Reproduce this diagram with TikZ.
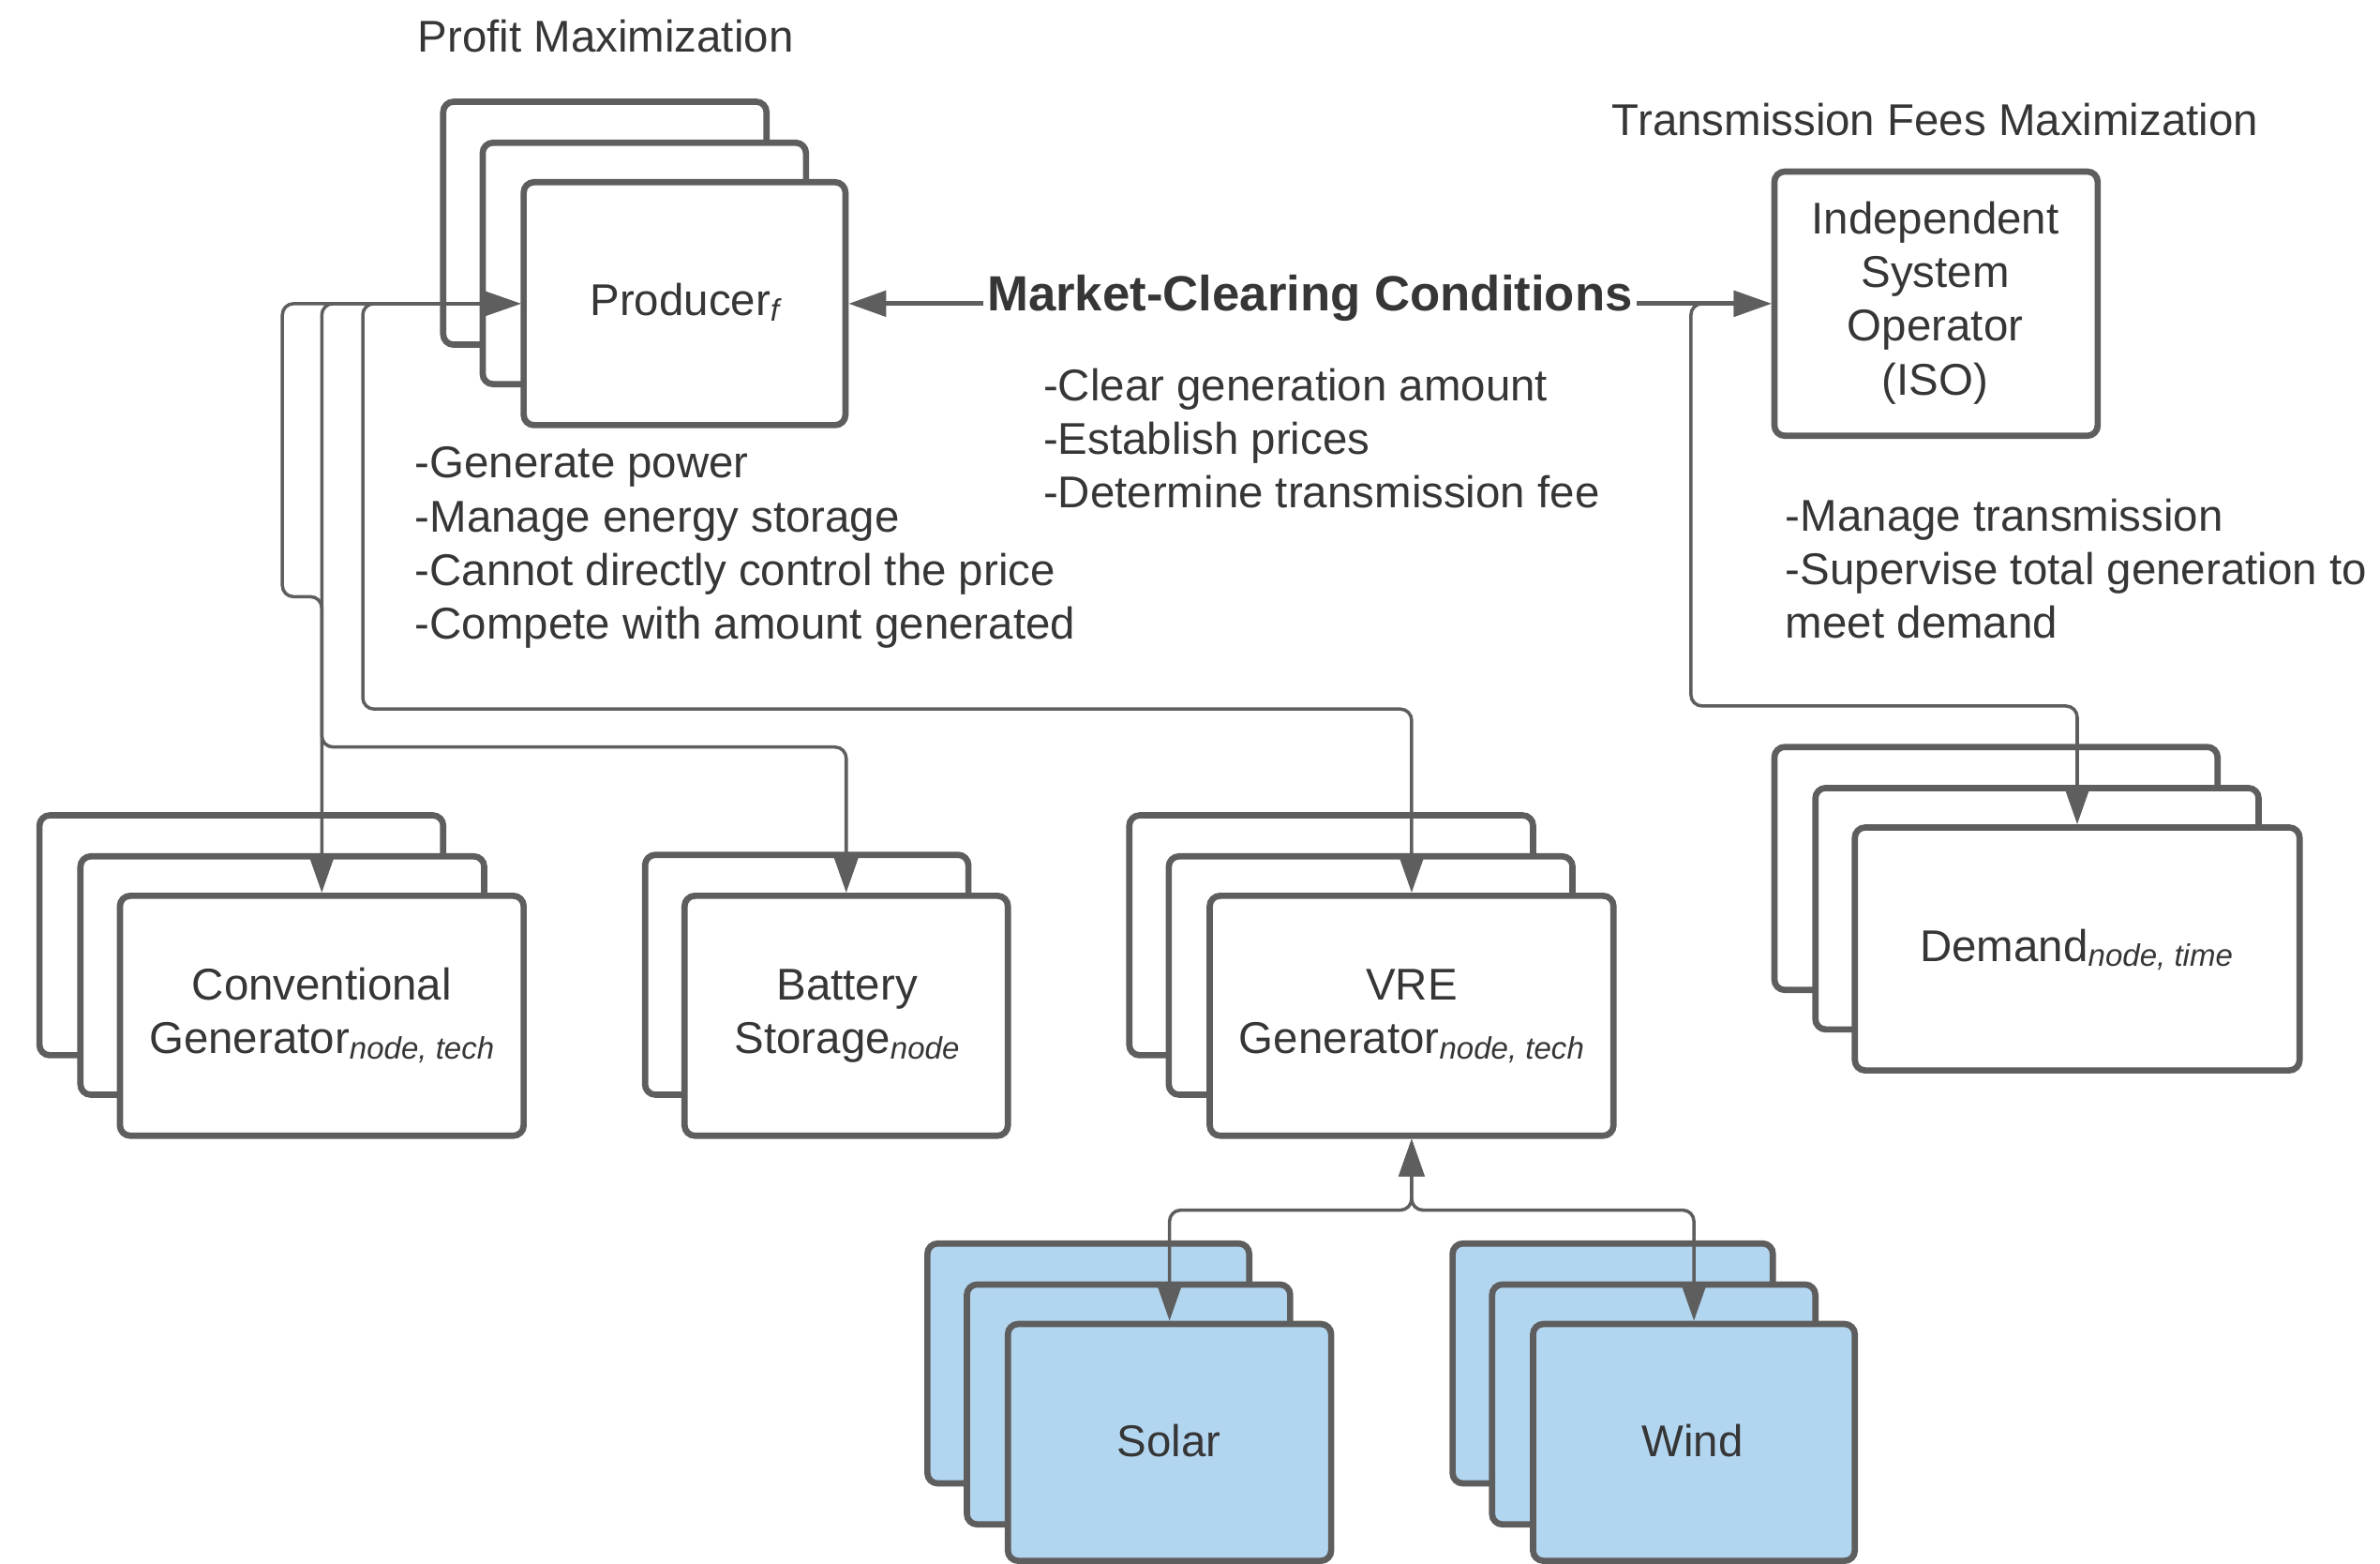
\documentclass[tikz,border=0pt]{standalone}
\usepackage{fontspec}
\setmainfont{Liberation Sans}
\usetikzlibrary{fit,arrows.meta,calc}
\definecolor{edge}{HTML}{5E5E5E}
\definecolor{ink}{HTML}{363636}
\definecolor{sky}{HTML}{B3D6F0}
% italic subscript used in the entity labels
\newcommand\lsub[1]{\raisebox{-1.6pt}{\fontsize{9.4pt}{10pt}\selectfont\itshape #1}}
\begin{document}
\begin{tikzpicture}[x=0.016193cm,y=-0.016193cm,
  >={Triangle[length=0.40cm,width=0.27cm]},
  card/.style={draw=edge, line width=1.9pt, fill=white, rounded corners=0.11cm, inner sep=0pt},
  bluecard/.style={card, fill=sky},
  conn/.style={draw=edge, line width=1pt, rounded corners=0.12cm},
  mline/.style={draw=edge, line width=1.4pt},
  txt/.style={text=ink, inner sep=0pt, font=\fontsize{13.5pt}{16.3pt}\selectfont},
  heading/.style={txt, inner sep=1pt, font=\fontsize{15pt}{18pt}\selectfont\bfseries}
]
\useasboundingbox (0,0) rectangle (1568,1030);

% Producer stack
\node[card, fit={(292,67) (505,227)}] (p3) {};
\node[card, fit={(318,94) (531,253)}] (p2) {};
\node[card, fit={(345,120) (557,280)}] (prod) {};

% Independent System Operator
\node[card, fit={(1169,113) (1382,287)}] (iso) {};

% Demand stack
\node[card, fit={(1169,492) (1461,652)}] (d3) {};
\node[card, fit={(1196,519) (1488,678)}] (d2) {};
\node[card, fit={(1222,545) (1515,705)}] (dem) {};

% Conventional generator stack
\node[card, fit={(26,537) (292,695)}] (c3) {};
\node[card, fit={(53,564) (319,721)}] (c2) {};
\node[card, fit={(79,590) (345,748)}] (conv) {};

% Battery storage stack
\node[card, fit={(425,563) (638,721)}] (b2) {};
\node[card, fit={(451,590) (664,748)}] (bat) {};

% VRE generator stack
\node[card, fit={(744,537) (1010,695)}] (v3) {};
\node[card, fit={(770,564) (1036,721)}] (v2) {};
\node[card, fit={(797,590) (1063,748)}] (vre) {};

% Solar stack
\node[bluecard, fit={(611,819) (823,977)}] (s3) {};
\node[bluecard, fit={(637,846) (850,1004)}] (s2) {};
\node[bluecard, fit={(664,872) (877,1028)}] (solar) {};

% Wind stack
\node[bluecard, fit={(957,819) (1168,977)}] (w3) {};
\node[bluecard, fit={(983,846) (1196,1004)}] (w2) {};
\node[bluecard, fit={(1010,872) (1222,1028)}] (wind) {};

% Market-clearing conditions between producer and ISO
\node[heading, anchor=base] (mkt) at (863,205) {Market-Clearing Conditions};
\draw[mline,->] (mkt.west |- prod.east) -- (prod.east);
\draw[mline,->] (mkt.east |- iso.west) -- (iso.west);

% Producer links to its assets
\draw[conn,<->] (prod.west) -- (conv.north |- prod.west) -- (conv.north);
\draw[conn,<->] (prod.west) -- (186,200) -- (186,393) -- (212,393) -- (212,492) -- (bat.north |- 0,492) -- (bat.north);
\draw[conn,<->] (prod.west) -- (239,200) -- (239,467) -- (vre.north |- 0,467) -- (vre.north);

% ISO link to demand
\draw[conn,<->] (dem.north) -- (dem.north |- 0,465) -- (1114,465) -- (1114,200) -- (iso.west);

% Renewable technologies feeding the VRE generator
\draw[conn,<->] (solar.north) -- (solar.north |- 0,797) -- (vre.south |- 0,797) -- (vre.south);
\draw[conn,<->] (wind.north) -- (wind.north |- 0,797) -- (vre.south |- 0,797) -- (vre.south);

% Labels (multi-line nodes are anchored on the baseline of their last line)
\node[txt, anchor=base] (ptitle) at (399,34.5) {Profit Maximization};
\node[txt, anchor=base] (ttitle) at (1275,89.5) {Transmission Fees Maximization};
\node[txt, anchor=base] (ptxt) at (451,208) {Producer\lsub{f}};
\node[txt, anchor=base, align=center] (isotxt) at (1275,260) {Independent\\System\\Operator\\(ISO)};
\node[txt, anchor=base] (demtxt) at (1368,633) {Demand\lsub{node, time}};
\node[txt, anchor=base, align=center] (convtxt) at (212,694) {Conventional\\Generator\lsub{node, tech}};
\node[txt, anchor=base, align=center] (battxt) at (558,694) {Battery\\Storage\lsub{node}};
\node[txt, anchor=base, align=center] (vretxt) at (930,694) {VRE\\Generator\lsub{node, tech}};
\node[txt, anchor=base] (solartxt) at (770,959.5) {Solar};
\node[txt, anchor=base] (windtxt) at (1115,959.5) {Wind};

% Role descriptions
\node[txt, anchor=base west, align=left] (pnotes) at (273,421)
  {-Generate power\\-Manage energy storage\\-Cannot directly control the price\\-Compete with amount generated};
\node[txt, anchor=base west, align=left] (mnotes) at (687,334.5)
  {-Clear generation amount\\-Establish prices\\-Determine transmission fee};
\node[txt, anchor=base west, align=left] (inotes) at (1176,420.5)
  {-Manage transmission\\-Supervise total generation to\\meet demand};
\end{tikzpicture}
\end{document}
